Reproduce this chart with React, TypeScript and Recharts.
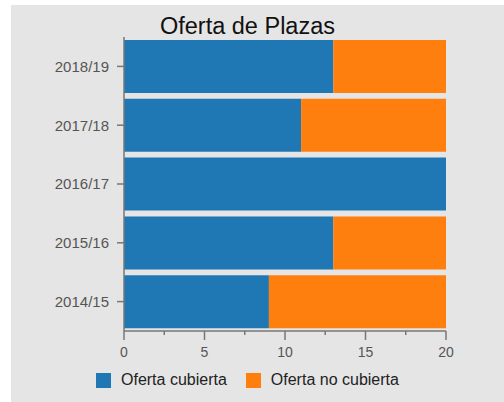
import React from "react";
import { BarChart, Bar, XAxis, YAxis, Legend } from "recharts";

const years = ["2018/19", "2017/18", "2016/17", "2015/16", "2014/15"];
const cubierta = [13, 11, 20, 13, 9];
const noCubierta = [7, 9, 0, 7, 11];
const xTicks = [0, 2.5, 5, 7.5, 10, 12.5, 15, 17.5, 20];
const xLabels = [0, 5, 10, 15, 20];

const data = years.map((year, i) => ({
  year,
  cubierta: cubierta[i],
  noCubierta: noCubierta[i],
}));

const FONT = '"Liberation Sans", Arial, sans-serif';
const AXIS = "#777";

const XTick = ({ x, y, payload }: any) => {
  const major = xLabels.includes(payload.value);
  return (
    <g>
      <line x1={x} y1={y} x2={x} y2={y + (major ? 9 : 4)} stroke={AXIS} strokeWidth={1.5} />
      {major && (
        <text x={x} y={y + 26} textAnchor="middle" fill="#555" fontSize={14} fontFamily={FONT}>
          {payload.value}
        </text>
      )}
    </g>
  );
};

const LegendContent = ({ payload }: any) => (
  <div style={{ display: "flex", alignItems: "center", paddingLeft: 85, fontFamily: FONT, fontSize: 16, color: "#222" }}>
    {(payload || []).map((p: any, i: number) => (
      <div key={i} style={{ display: "flex", alignItems: "center", marginRight: 19 }}>
        <span style={{ width: 15, height: 15, background: p.color, display: "inline-block", marginRight: 10 }} />
        <span>{p.value}</span>
      </div>
    ))}
  </div>
);

export default function App() {
  return (
    <div style={{ position: "absolute", left: 11, top: 5, width: 493, height: 397, background: "#e5e5e5" }}>
      <div
        style={{
          position: "absolute",
          left: 0,
          top: 8,
          width: 473,
          textAlign: "center",
          fontFamily: FONT,
          fontSize: 23.5,
          color: "#111",
        }}
      >
        Oferta de Plazas
      </div>
      <BarChart
        width={493}
        height={397}
        data={data}
        layout="vertical"
        margin={{ top: 32, right: 58, bottom: 41, left: 0 }}
        barCategoryGap={3}
      >
        <XAxis
          type="number"
          domain={[0, 20]}
          ticks={xTicks}
          interval={0}
          height={30}
          tickLine={false}
          tickSize={0}
          tickMargin={0}
          tick={<XTick />}
          stroke={AXIS}
          strokeWidth={1.5}
        />
        <YAxis
          type="category"
          dataKey="year"
          width={113}
          tickSize={7}
          tickMargin={8}
          stroke={AXIS}
          strokeWidth={1.5}
          tick={{ fill: "#555", fontSize: 15, fontFamily: FONT }}
        />
        <Legend
          layout="horizontal"
          verticalAlign="middle"
          align="center"
          wrapperStyle={{ top: 366, left: 0, width: 493 }}
          content={<LegendContent />}
        />
        <Bar dataKey="cubierta" name="Oferta cubierta" stackId="a" fill="#1f77b4" isAnimationActive={false} />
        <Bar dataKey="noCubierta" name="Oferta no cubierta" stackId="a" fill="#ff7f0e" isAnimationActive={false} />
      </BarChart>
    </div>
  );
}
